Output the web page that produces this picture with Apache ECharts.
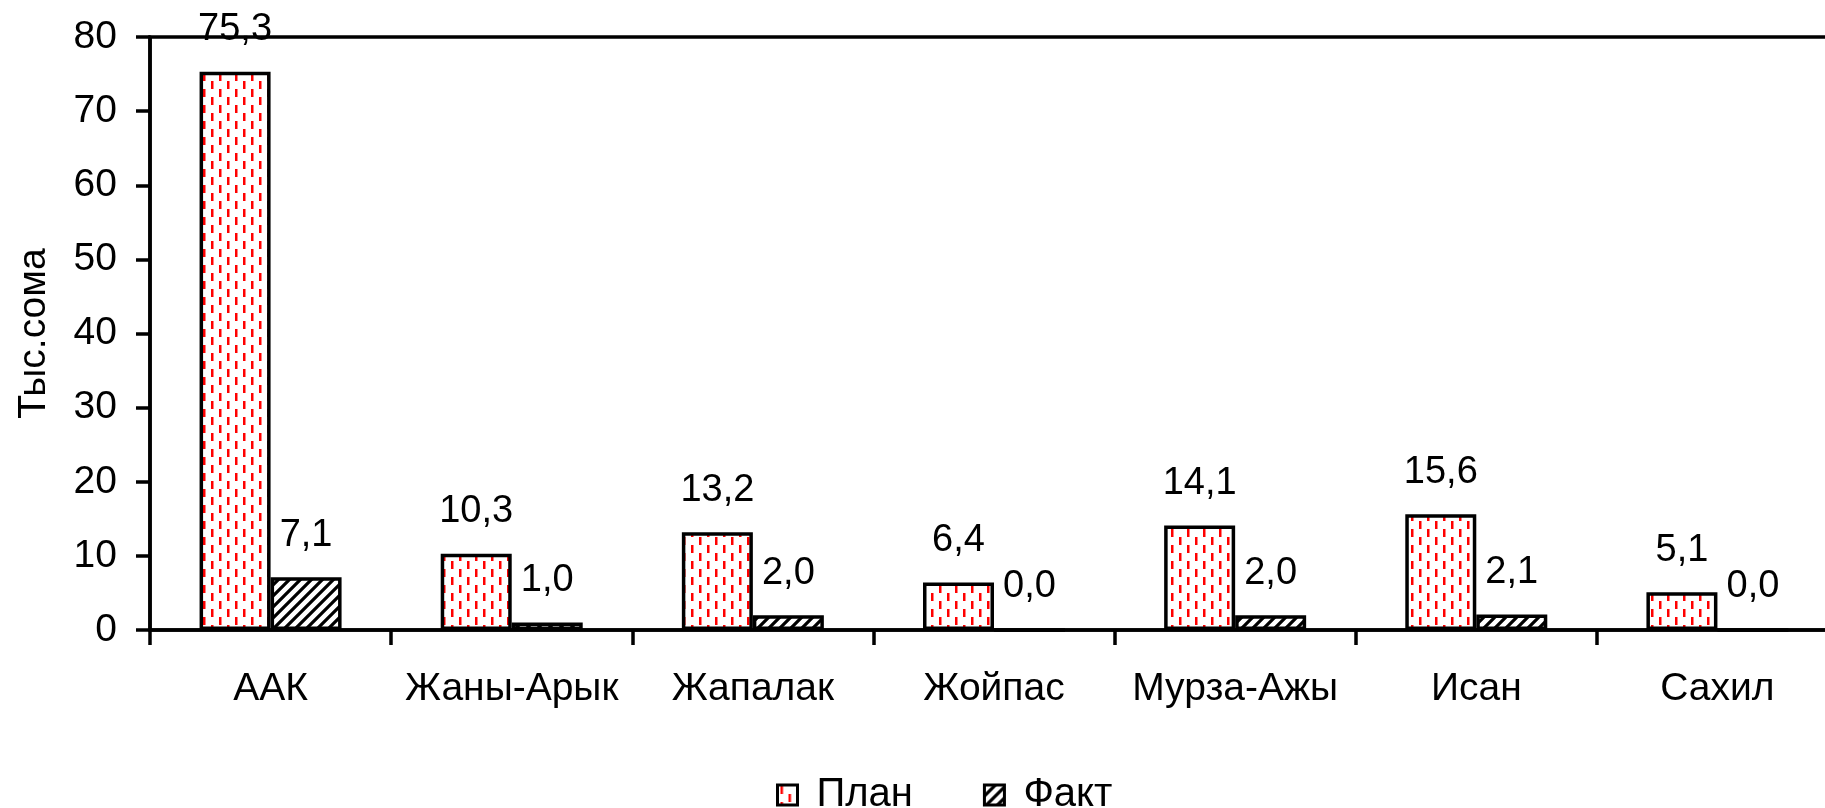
<!DOCTYPE html>
<html>
<head>
<meta charset="utf-8">
<script src="https://cdn.jsdelivr.net/npm/echarts@6/dist/echarts.min.js"></script>
<style>
html,body{margin:0;padding:0;background:#fff;}
#c{width:1825px;height:808px;}
</style>
</head>
<body>
<div id="c"></div>
<script>
const categories = ['ААК', 'Жаны-Арык', 'Жапалак', 'Жойпас', 'Мурза-Ажы', 'Исан', 'Сахил'];
const planValues = [75.3, 10.3, 13.2, 6.4, 14.1, 15.6, 5.1];
const factValues = [7.1, 1.0, 2.0, 0.0, 2.0, 2.1, 0.0];
const yTicks = [0, 10, 20, 30, 40, 50, 60, 70, 80];
const seriesNames = ['План', 'Факт'];

function dashPattern() {
  const c = document.createElement('canvas');
  c.width = 16; c.height = 16;
  const g = c.getContext('2d');
  g.fillStyle = '#fff'; g.fillRect(0, 0, 16, 16);
  g.fillStyle = '#ff0000';
  g.fillRect(3, 1, 2.5, 8);
  g.fillRect(11, 9, 2.5, 8);
  g.fillRect(11, 0, 2.5, 1);
  return c;
}
function hatchPattern() {
  const s = 11;
  const c = document.createElement('canvas');
  c.width = s; c.height = s;
  const g = c.getContext('2d');
  g.fillStyle = '#fff'; g.fillRect(0, 0, s, s);
  g.strokeStyle = '#000'; g.lineWidth = 3.2;
  g.beginPath();
  g.moveTo(-2, s + 2); g.lineTo(s + 2, -2);
  g.moveTo(-2, 2); g.lineTo(2, -2);
  g.moveTo(s - 2, s + 2); g.lineTo(s + 2, s - 2);
  g.stroke();
  return c;
}

const fmt = p => p.value.toFixed(1).replace('.', ',');
const font = 'Liberation Sans, Arial, sans-serif';

const chart = echarts.init(document.getElementById('c'));
chart.setOption({
  animation: false,
  backgroundColor: '#fff',
  grid: {
    left: 150, top: 37, width: 1688, bottom: 178,
    outerBoundsMode: 'none',
    containLabel: false,
    show: true, borderColor: '#000', borderWidth: 3.5, backgroundColor: 'transparent'
  },
  legend: {
    data: seriesNames,
    icon: 'rect',
    left: 771, top: 770,
    itemWidth: 20, itemHeight: 20, itemGap: 70,
    itemStyle: { borderColor: '#000', borderWidth: 3 },
    textStyle: { fontFamily: font, fontSize: 40, color: '#000', padding: [0, 0, 0, 14] }
  },
  xAxis: {
    type: 'category',
    data: categories,
    axisLine: { lineStyle: { color: '#000', width: 3.5 } },
    axisTick: { show: true, length: 15, lineStyle: { color: '#000', width: 3.5 } },
    axisLabel: { color: '#000', fontFamily: font, fontSize: 39, margin: 40, interval: 0 },
    splitLine: { show: false }
  },
  yAxis: {
    type: 'value',
    min: yTicks[0], max: yTicks[yTicks.length - 1], interval: 10,
    name: 'Тыс.сома',
    nameLocation: 'middle',
    nameGap: 96,
    nameTextStyle: { color: '#000', fontFamily: font, fontSize: 39 },
    axisLine: { show: true, lineStyle: { color: '#000', width: 3.5 } },
    axisTick: { show: true, length: 14, lineStyle: { color: '#000', width: 3.5 } },
    axisLabel: { color: '#000', fontFamily: font, fontSize: 39, margin: 33 },
    splitLine: { show: false }
  },
  series: [
    {
      name: seriesNames[0],
      type: 'bar',
      data: planValues,
      barWidth: 71,
      barGap: '0%',
      itemStyle: { color: { image: dashPattern(), repeat: 'repeat' }, borderColor: '#000', borderWidth: 3.5 },
      label: { show: true, position: 'top', distance: 23, formatter: fmt, color: '#000', fontFamily: font, fontSize: 38 }
    },
    {
      name: seriesNames[1],
      type: 'bar',
      data: factValues,
      barWidth: 71,
      itemStyle: { color: { image: hatchPattern(), repeat: 'repeat' }, borderColor: '#000', borderWidth: 3.5 },
      label: { show: true, position: 'top', distance: 23, formatter: fmt, color: '#000', fontFamily: font, fontSize: 38 }
    }
  ]
});
</script>
</body>
</html>
